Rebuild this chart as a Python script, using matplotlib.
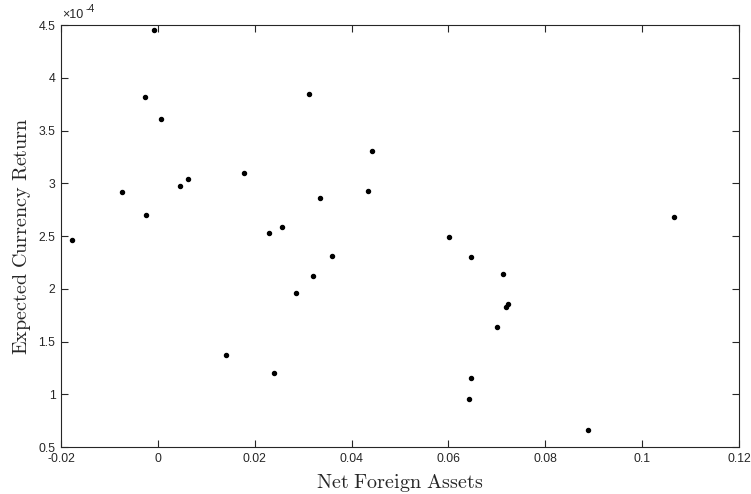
import matplotlib
matplotlib.use('Agg')
import matplotlib.pyplot as plt

# net foreign assets vs expected currency return (return in units of 1e-4)
nfa = [-0.0007, -0.0026, 0.0007, -0.0074, -0.0024, -0.0177, 0.0045, 0.0063,
       0.0178, 0.0313, 0.0230, 0.0257, 0.0334, 0.0360, 0.0320, 0.0443,
       0.0434, 0.0285, 0.0140, 0.0240, 0.0602, 0.0647, 0.0712, 0.0718,
       0.0724, 0.0700, 0.0647, 0.0643, 0.0888, 0.1065]
ret_e4 = [4.45, 3.82, 3.61, 2.92, 2.70, 2.465, 2.977, 3.04,
          3.10, 3.85, 2.525, 2.588, 2.863, 2.313, 2.12, 3.31,
          2.93, 1.957, 1.369, 1.20, 2.49, 2.30, 2.137, 1.827,
          1.853, 1.634, 1.151, 0.955, 0.661, 2.677]

xticks = [-0.02, 0, 0.02, 0.04, 0.06, 0.08, 0.1, 0.12]
xticklabels = ['-0.02', '0', '0.02', '0.04', '0.06', '0.08', '0.1', '0.12']
yticks = [0.5, 1, 1.5, 2, 2.5, 3, 3.5, 4, 4.5]
yticklabels = ['0.5', '1', '1.5', '2', '2.5', '3', '3.5', '4', '4.5']

plt.rcParams['mathtext.fontset'] = 'cm'
plt.rcParams['font.family'] = ['Liberation Sans', 'DejaVu Sans']

axc = '#262626'
fig = plt.figure(figsize=(7.51, 4.94), dpi=100)
ax = fig.add_axes([0.0812, 0.0951, 0.9028, 0.8539])

ax.plot(nfa, ret_e4, linestyle='none', marker='o', markersize=2.9,
        color='black')

ax.set_xlim(-0.02, 0.12)
ax.set_ylim(0.5, 4.5)
ax.set_xticks(xticks)
ax.set_xticklabels(xticklabels)
ax.set_yticks(yticks)
ax.set_yticklabels(yticklabels)
ax.tick_params(direction='in', length=5, width=0.8, colors=axc,
               labelsize=8.8, top=True, right=True, pad=4)
for s in ax.spines.values():
    s.set_color(axc)
    s.set_linewidth(0.8)

ax.set_xlabel(r'$\mathrm{Net\ Foreign\ Assets}$', fontsize=14.5, color=axc,
              labelpad=5)
ax.set_ylabel(r'$\mathrm{Expected\ Currency\ Return}$', fontsize=14.5,
              color=axc, labelpad=4)

# exponent label, MATLAB style
ax.annotate('\u00d710', xy=(0, 1), xycoords='axes fraction',
            xytext=(1, 3), textcoords='offset points',
            fontsize=9, color=axc, ha='left', va='bottom')
ax.annotate('-4', xy=(0, 1), xycoords='axes fraction',
            xytext=(17.5, 8), textcoords='offset points',
            fontsize=7.5, color=axc, ha='left', va='bottom')

fig.savefig('out.png', dpi=100)
